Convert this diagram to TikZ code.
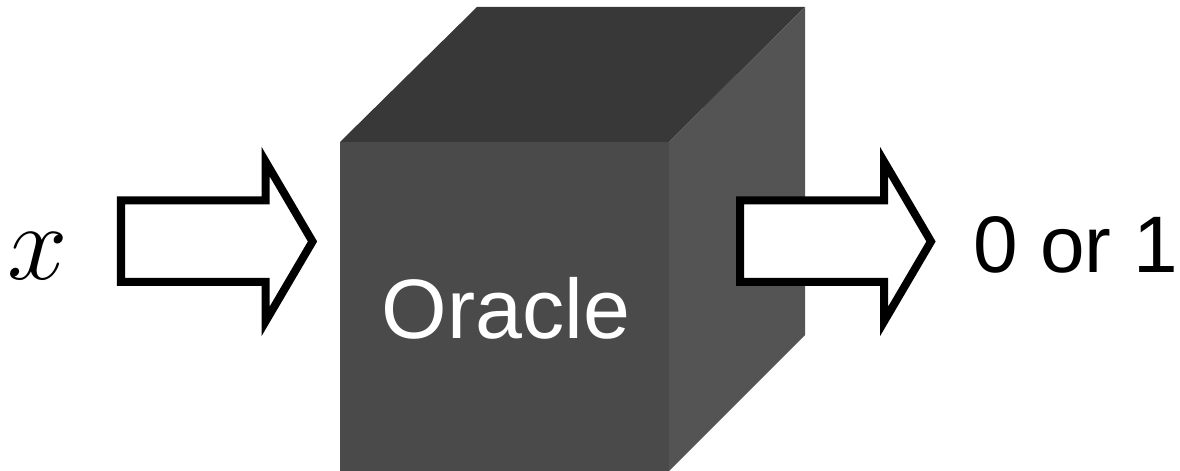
\documentclass[tikz,border=0pt]{standalone}
\usepackage{fontspec}
\setmainfont{Liberation Serif}
\newfontfamily\arialfont{Liberation Sans}
\definecolor{cubetop}{HTML}{383838}
\definecolor{cubefront}{HTML}{4A4A4A}
\definecolor{cubeside}{HTML}{545454}
\tikzset{
  blockarrow/.style={draw=black, fill=white, line width=8*0.7113pt, line join=miter, miter limit=20},
  label/.style={inner sep=0pt, font=\arialfont\fontsize{60pt}{60pt}\selectfont},
}
\begin{document}
\begin{tikzpicture}[x=0.025cm, y=-0.025cm]
  \useasboundingbox (0,0) rectangle (1180,471);

  % the oracle box, seen as a cube
  \fill[cubefront] (340,142) rectangle (669,471);
  \fill[cubetop] (340,142) -- (477,7) -- (805,7) -- (669,142) -- cycle;
  \fill[cubeside] (669,142) -- (805,7) -- (805,335) -- (669,471) -- cycle;
  \node[label, text=white, anchor=base] (oracle) at (506,339) {Oracle};

  % input arrow
  \draw[blockarrow] (121,200.5) -- (265.5,200.5) -- (265.5,161.5) -- (312.5,241.5)
    -- (265.5,321.5) -- (265.5,282) -- (121,282) -- cycle;
  % output arrow
  \draw[blockarrow] (740,200.5) -- (884,200.5) -- (884,161.5) -- (931,241.5)
    -- (884,321.5) -- (884,282) -- (740,282) -- cycle;

  \node[inner sep=0pt, anchor=base, scale=3.1, font=\fontsize{24.88pt}{24.88pt}\selectfont] (input) at (38,280) {$x$};
  \node[label, anchor=base west, font=\arialfont\fontsize{57pt}{57pt}\selectfont] (output) at (973,273) {0 or 1};
\end{tikzpicture}
\end{document}
